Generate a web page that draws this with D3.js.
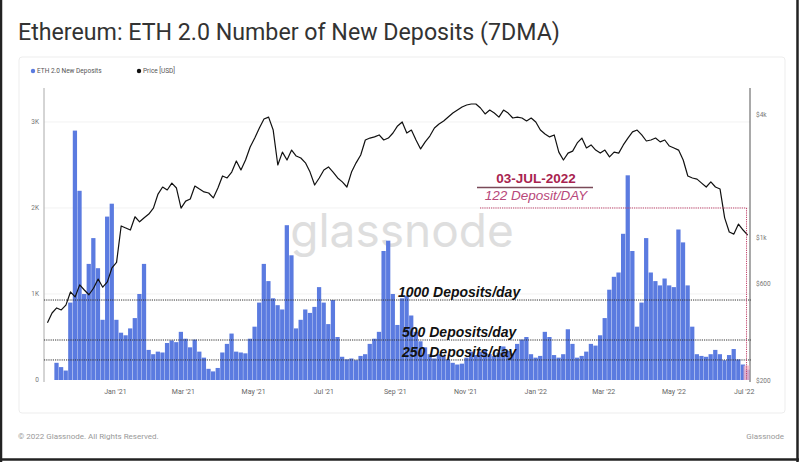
<!DOCTYPE html>
<html><head><meta charset="utf-8">
<script src="https://cdn.jsdelivr.net/npm/d3@7"></script>
<style>body{margin:0;background:#fff;} svg{display:block;font-family:Roboto,"Noto Sans",sans-serif;}</style>
</head><body><svg id="c" width="799" height="462"></svg>
<script>
// ---- data ----
const depositStart = "2020-11-09";   // 4-day steps
const depositStepDays = 4;
const deposits = [200,150,110,900,2900,2200,1000,1350,1650,1300,700,1900,2050,700,550,520,600,720,1000,1350,
350,300,330,320,430,460,440,560,480,380,470,330,260,130,100,140,320,420,540,330,
320,310,480,620,900,1350,1150,950,870,820,1800,1450,600,700,820,780,850,1080,900,650,
930,500,270,240,250,230,280,300,420,480,560,1500,1620,1000,640,950,980,750,560,450,
380,300,250,300,280,240,200,180,190,260,330,290,330,350,300,280,320,390,340,310,
420,470,500,300,260,280,560,500,290,260,300,590,420,260,280,330,420,400,520,720,
1050,1200,1250,1700,2380,1500,620,900,1650,1250,1150,1100,1180,1100,1080,1750,1600,1100,620,300,
280,270,300,350,300,230,290,360,240,180,120];
const priceStart = "2020-11-03";     // 4-day steps
const priceStepDays = 4;
const price = [385,430,455,445,470,545,515,590,557,528,568,630,575,610,714,760,1145,1120,1094,1270,
1200,1255,1310,1400,1640,1775,1717,1855,1755,1400,1515,1550,1795,1735,1680,1660,1570,1755,2010,1965,
2100,2380,2150,2406,2785,3080,3450,3815,3900,3370,2275,2630,2406,2690,2515,2460,2330,2100,1815,1965,
2150,2225,2100,1965,1880,1775,2100,2330,2545,3013,3080,3120,3190,3013,3080,3260,3530,3690,3260,3370,
3013,2725,2950,3150,3450,3610,3735,3900,4080,4220,4370,4470,4520,4520,4320,4040,4220,4080,3900,4220,
4080,3860,3900,3860,3735,3860,3690,3370,3225,3120,3190,2630,2406,2600,2660,2915,3080,2755,2850,2690,
2600,2690,2490,2630,2600,2850,3080,3300,3370,3190,2980,3013,3080,2950,3013,2815,2755,2690,2406,2010,
1965,1940,1855,1775,1880,1775,1735,1255,1070,1045,1170,1094,1034];
const leftTicks = [0,1000,2000,3000];
const leftTickLabels = ["0","1K","2K","3K"];
const rightTicks = [200,600,1000,4000];
const rightTickLabels = ["$200","$600","$1k","$4k"];
const refLines = [{v:930,label:"1000 Deposits/day"},{v:465,label:"500 Deposits/day"},{v:233,label:"250 Deposits/day"}];
const highlight = {date:"2022-07-03", value:122, level:2000, title:"03-JUL-2022", sub:"122 Deposit/DAY"};

// ---- scales ----
const svg = d3.select("#c");
const parse = d3.utcParse("%Y-%m-%d");
const x = d3.scaleUtc().domain([parse("2020-10-31"), parse("2022-07-06")]).range([44,750]);
const yL = d3.scaleLinear().domain([0,3372]).range([380,90]);
const yR = d3.scaleLog().domain([200,5290]).range([381,90]);
const addDays = (d,n)=>d3.utcDay.offset(d,n);

// background, card
svg.append("rect").attr("width",799).attr("height",462).attr("fill","#fff");
svg.append("rect").attr("x",19).attr("y",57).attr("width",766).attr("height",356).attr("rx",3)
  .attr("fill","#fff").attr("stroke","#ededed");

// title
svg.append("text").attr("x",18).attr("y",40).attr("font-size",23.2).attr("fill","#333")
  .text("Ethereum: ETH 2.0 Number of New Deposits (7DMA)");

// legend
svg.append("circle").attr("cx",33).attr("cy",71).attr("r",2.2).attr("fill","#5b7be0");
svg.append("text").attr("x",37).attr("y",73.3).attr("font-size",6.5).attr("fill","#555").text("ETH 2.0 New Deposits");
svg.append("circle").attr("cx",139).attr("cy",71).attr("r",2.2).attr("fill","#111");
svg.append("text").attr("x",143).attr("y",73.3).attr("font-size",6.5).attr("fill","#555").text("Price [USD]");

// grid
svg.append("g").selectAll("line").data(leftTicks.slice(1)).join("line")
  .attr("x1",44).attr("x2",750).attr("y1",d=>yL(d)).attr("y2",d=>yL(d))
  .attr("stroke","#f2f2f2");

// watermark
svg.append("text").attr("x",402).attr("y",247).attr("text-anchor","middle")
  .attr("font-size",46).attr("font-family","Inter, Lato, sans-serif").attr("font-weight",400)
  .attr("fill","#dedede").text("glassnode");

// bars
const depData = deposits.map((v,i)=>({d:addDays(parse(depositStart), i*depositStepDays), v}));
svg.append("g").selectAll("rect").data(depData).join("rect")
  .attr("x",d=>x(d.d))
  .attr("width",d=>Math.max(0.5, x(addDays(d.d,depositStepDays))-x(d.d)-0.35))
  .attr("y",d=>yL(d.v)).attr("height",d=>yL(0)-yL(d.v))
  .attr("fill","#5b7be0");

// price line
const priceData = price.map((v,i)=>({d:addDays(parse(priceStart), i*priceStepDays), v}));
svg.append("path").datum(priceData)
  .attr("d", d3.line().x(d=>x(d.d)).y(d=>yR(d.v)))
  .attr("fill","none").attr("stroke","#111").attr("stroke-width",1.2).attr("stroke-linejoin","round");

// axes lines
svg.append("line").attr("x1",44).attr("x2",44).attr("y1",88).attr("y2",382).attr("stroke","#aaa");
svg.append("line").attr("x1",750).attr("x2",750).attr("y1",88).attr("y2",382).attr("stroke","#555");

// left ticks
svg.append("g").selectAll("text").data(leftTicks).join("text")
  .attr("x",39).attr("y",d=>yL(d)+2.3).attr("text-anchor","end")
  .attr("font-size",6.5).attr("fill","#777").text((d,i)=>leftTickLabels[i]);
// right ticks
svg.append("g").selectAll("text").data(rightTicks).join("text")
  .attr("x",756).attr("y",d=>yR(d)+2.3).attr("text-anchor","start")
  .attr("font-size",6.5).attr("fill","#777").text((d,i)=>rightTickLabels[i]);
// x ticks
const xt = x.ticks(d3.utcMonth.every(2)).filter(d=>[0,2,4,6,8,10].includes(d.getUTCMonth()) && x(d)>60);
svg.append("g").selectAll("text").data(xt).join("text")
  .attr("x",d=>x(d)).attr("y",394).attr("text-anchor","middle")
  .attr("font-size",7).attr("fill","#666").text(d3.utcFormat("%b '%y"));

// reference lines
const refG = svg.append("g");
refG.selectAll("line").data(refLines).join("line")
  .attr("x1",44).attr("x2",751).attr("y1",d=>yL(d.v)).attr("y2",d=>yL(d.v))
  .attr("stroke","#333").attr("stroke-width",1).attr("stroke-dasharray","1.2,1");
refG.selectAll("text").data(refLines).join("text")
  .attr("x",d=>d.v>500?398:402).attr("y",d=>yL(d.v)-3)
  .attr("font-family","'Liberation Sans', Arial, sans-serif").attr("font-weight","bold").attr("font-style","italic")
  .attr("font-size",14).attr("fill","#111").text(d=>d.label);

// highlight
const hx = x(parse(highlight.date));
svg.append("rect").attr("x",hx-3).attr("width",6).attr("y",yL(highlight.value)-4)
  .attr("height",yL(0)-yL(highlight.value)+4).attr("fill","#f4b6c8").attr("opacity",0.8);
svg.append("line").attr("x1",480).attr("x2",hx).attr("y1",yL(highlight.level)).attr("y2",yL(highlight.level))
  .attr("stroke","#c0406a").attr("stroke-dasharray","1.2,1");
svg.append("line").attr("x1",hx).attr("x2",hx).attr("y1",yL(highlight.level)).attr("y2",yL(0))
  .attr("stroke","#c0406a").attr("stroke-dasharray","1.2,1");
svg.append("text").attr("x",536).attr("y",183).attr("text-anchor","middle")
  .attr("font-family","'Liberation Sans', Arial, sans-serif").attr("font-weight","bold")
  .attr("font-size",13.5).attr("fill","#a8234f").text(highlight.title);
svg.append("line").attr("x1",477).attr("x2",593).attr("y1",187.5).attr("y2",187.5)
  .attr("stroke","#7a4a58").attr("stroke-width",1.3);
svg.append("text").attr("x",536).attr("y",199.5).attr("text-anchor","middle")
  .attr("font-family","'Liberation Sans', Arial, sans-serif").attr("font-style","italic")
  .attr("font-size",13.5).attr("fill","#b8487a").text(highlight.sub);

// footer
svg.append("text").attr("x",18).attr("y",439).attr("font-size",8).attr("fill","#999")
  .text("© 2022 Glassnode. All Rights Reserved.");
svg.append("text").attr("x",784).attr("y",439).attr("text-anchor","end").attr("font-size",8).attr("fill","#999")
  .text("Glassnode");

// outer frame
svg.append("line").attr("x1",1).attr("x2",1).attr("y1",0).attr("y2",462).attr("stroke","#222").attr("stroke-width",2.5);
svg.append("line").attr("x1",797.5).attr("x2",797.5).attr("y1",0).attr("y2",462).attr("stroke","#222").attr("stroke-width",2.5);
svg.append("line").attr("x1",0).attr("x2",799).attr("y1",459.5).attr("y2",459.5).attr("stroke","#222").attr("stroke-width",2.5);
</script></body></html>
